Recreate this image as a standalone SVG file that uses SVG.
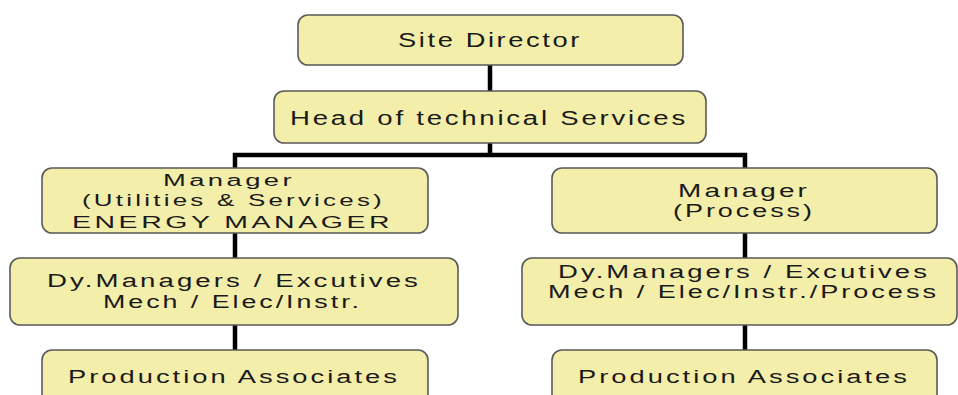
<svg xmlns="http://www.w3.org/2000/svg" width="958" height="395" viewBox="0 0 958 395">
<style>
.box{fill:#F3EEAA;stroke:#5a5a5a;stroke-width:1.6}
.t{font-family:"Liberation Sans",Arial,sans-serif;font-size:18px;letter-spacing:2px;fill:#1a1a1a}
.big{font-size:21px}
.sm{font-size:16px}
.c{stroke:#000;stroke-width:4.5;fill:none}
</style>
<rect width="958" height="395" fill="#fff"/>
<g id="connectors">
<line class="c" x1="490" y1="65" x2="490" y2="91"/>
<line class="c" x1="490" y1="143" x2="490" y2="155"/>
<polyline class="c" points="235,168 235,155 745,155 745,168"/>
<line class="c" x1="235" y1="233" x2="235" y2="258"/>
<line class="c" x1="235" y1="325" x2="235" y2="350"/>
<line class="c" x1="745" y1="233" x2="745" y2="258"/>
<line class="c" x1="745" y1="325" x2="745" y2="350"/>
</g>
<g id="site-director">
<rect class="box" x="298" y="15" width="385" height="50" rx="10"/>
<text class="t big" x="398" y="47" textLength="184" lengthAdjust="spacingAndGlyphs">Site Director</text>
</g>
<g id="head-technical">
<rect class="box" x="274" y="91" width="432" height="52" rx="10"/>
<text class="t" style="font-size:20px" x="290" y="125" textLength="398" lengthAdjust="spacingAndGlyphs">Head of technical Services</text>
</g>
<g id="manager-utilities">
<rect class="box" x="42" y="168" width="386" height="65" rx="10"/>
<text class="t sm" x="163" y="186" textLength="132" lengthAdjust="spacingAndGlyphs">Manager</text>
<text class="t sm" x="82" y="206" textLength="303" lengthAdjust="spacingAndGlyphs">(Utilities &amp; Services)</text>
<text class="t sm" x="72" y="228" textLength="321" lengthAdjust="spacingAndGlyphs">ENERGY MANAGER</text>
</g>
<g id="manager-process">
<rect class="box" x="552" y="168" width="385" height="65" rx="10"/>
<text class="t" x="678" y="197" textLength="132" lengthAdjust="spacingAndGlyphs">Manager</text>
<text class="t" x="673" y="217" textLength="142" lengthAdjust="spacingAndGlyphs">(Process)</text>
</g>
<g id="dy-left">
<rect class="box" x="10" y="258" width="448" height="67" rx="10"/>
<text class="t" x="47" y="287" textLength="374" lengthAdjust="spacingAndGlyphs">Dy.Managers / Excutives</text>
<text class="t" x="103" y="308" textLength="259" lengthAdjust="spacingAndGlyphs">Mech / Elec/Instr.</text>
</g>
<g id="dy-right">
<rect class="box" x="522" y="258" width="435" height="67" rx="10"/>
<text class="t" x="558" y="278" textLength="372" lengthAdjust="spacingAndGlyphs">Dy.Managers / Excutives</text>
<text class="t" x="548" y="298" textLength="391" lengthAdjust="spacingAndGlyphs">Mech / Elec/Instr./Process</text>
</g>
<g id="production-left">
<rect class="box" x="42" y="350" width="386" height="60" rx="10"/>
<text class="t" x="68" y="383" textLength="332" lengthAdjust="spacingAndGlyphs">Production Associates</text>
</g>
<g id="production-right">
<rect class="box" x="552" y="350" width="385" height="60" rx="10"/>
<text class="t" x="578" y="383" textLength="332" lengthAdjust="spacingAndGlyphs">Production Associates</text>
</g>
</svg>
